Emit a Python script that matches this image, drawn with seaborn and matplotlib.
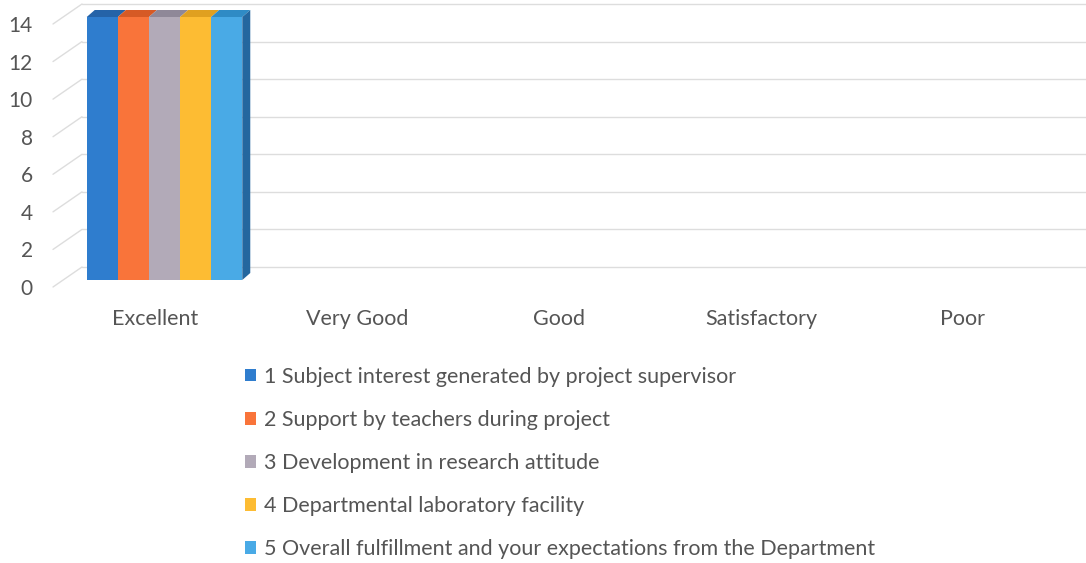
import matplotlib
matplotlib.use("Agg")
import matplotlib.pyplot as plt
import matplotlib.transforms as mtransforms
from matplotlib.patches import Polygon
import seaborn as sns
import pandas as pd
import numpy as np

# ---- data ----
ratings = ["Excellent", "Very Good", "Good", "Satisfactory", "Poor"]
aspects = [
    "1 Subject interest generated by project supervisor",
    "2 Support by teachers during project",
    "3 Development in research attitude",
    "4 Departmental laboratory facility",
    "5 Overall fulfillment and your expectations from the Department",
]
counts_1 = [14, 0, 0, 0, 0]
counts_2 = [14, 0, 0, 0, 0]
counts_3 = [14, 0, 0, 0, 0]
counts_4 = [14, 0, 0, 0, 0]
counts_5 = [14, 0, 0, 0, 0]
y_ticks = [0, 2, 4, 6, 8, 10, 12, 14]

colors = ["#2F7DCE", "#F9743A", "#B2AAB8", "#FDBC33", "#49AAE6"]
top_colors = ["#2563A8", "#D65A25", "#8F8898", "#E0A020", "#2F8BC5"]
side_color = "#24679F"
text_color = "#555555"

rows = []
for a, vals in zip(aspects, [counts_1, counts_2, counts_3, counts_4, counts_5]):
    for r, v in zip(ratings, vals):
        rows.append({"rating": r, "aspect": a, "count": v})
df = pd.DataFrame(rows)

sns.set_theme(style="white")
plt.rcParams["font.family"] = ["Lato", "DejaVu Sans"]

fig = plt.figure(figsize=(10.86, 5.63), dpi=100)
fig.patch.set_facecolor("white")
ax = fig.add_axes([63.5 / 1086, 1 - 280 / 563, 1010 / 1086, 263 / 563])

sns.barplot(data=df, x="rating", y="count", hue="aspect", hue_order=aspects,
            order=ratings, palette=colors, saturation=1, width=0.77,
            ax=ax, linewidth=0, errorbar=None)

handles, labels = ax.get_legend_handles_labels()
if ax.get_legend() is not None:
    ax.get_legend().remove()

ax.set_ylim(0, 14)
ax.set_xlim(-0.5, 4.5)
ax.set_yticks(y_ticks)
ax.set_xlabel("")
ax.set_ylabel("")
for s in ax.spines.values():
    s.set_visible(False)
ax.set_facecolor("none")

ax.tick_params(axis="y", length=0, pad=22, labelsize=15, labelcolor=text_color)
ax.tick_params(axis="x", length=0, pad=21, labelsize=15.5, labelcolor=text_color)

# shift tick labels to the "front plane" of the 3D look
yoff = mtransforms.ScaledTranslation(0, -7 / 100, fig.dpi_scale_trans)
for lbl in ax.get_yticklabels():
    lbl.set_transform(lbl.get_transform() + yoff)
xoff = mtransforms.ScaledTranslation(-9.5 / 100, 0, fig.dpi_scale_trans)
for lbl in ax.get_xticklabels():
    lbl.set_transform(lbl.get_transform() + xoff)

# back-wall gridlines (shifted up/right) with diagonal stubs
grid_off = mtransforms.ScaledTranslation(18.5 / 100, 13 / 100, fig.dpi_scale_trans)
gtrans = ax.get_yaxis_transform() + grid_off
for v in y_ticks:
    ax.plot([0, 1.05], [v, v], transform=gtrans, color="#DDDDDD",
            lw=1.0, clip_on=False, zorder=0)
fig.canvas.draw()
for v in y_ticks:
    x0, y0 = ax.transData.transform((-0.5, v))
    stub = plt.Line2D([x0 - 10.5, x0 + 18.5], [y0 - 7, y0 + 13],
                      transform=mtransforms.IdentityTransform(),
                      color="#DDDDDD", lw=1.0, zorder=0)
    fig.add_artist(stub)

# 3D tops and side
dx, dy = 8, 7
bars = [p for p in ax.patches if p.get_height() > 0]
for i, p in enumerate(bars):
    bb = p.get_window_extent()
    top = Polygon([(bb.x0, bb.y1), (bb.x1, bb.y1), (bb.x1 + dx, bb.y1 + dy),
                   (bb.x0 + dx, bb.y1 + dy)], closed=True,
                  transform=mtransforms.IdentityTransform(),
                  facecolor=top_colors[i % len(top_colors)], edgecolor="none")
    fig.add_artist(top)
    if i == len(bars) - 1:
        side = Polygon([(bb.x1, bb.y0), (bb.x1 + dx, bb.y0 + dy),
                        (bb.x1 + dx, bb.y1 + dy), (bb.x1, bb.y1)], closed=True,
                       transform=mtransforms.IdentityTransform(),
                       facecolor=side_color, edgecolor="none")
        fig.add_artist(side)

leg = fig.legend(handles, labels, loc="upper left",
                 bbox_to_anchor=(245 / 1086, 1 - 367 / 563),
                 frameon=False, fontsize=15.5, labelcolor=text_color,
                 handlelength=0.5, handleheight=0.5, handletextpad=0.4,
                 labelspacing=1.07, borderaxespad=0, borderpad=0)

fig.savefig("out.png", dpi=100, facecolor="white")
